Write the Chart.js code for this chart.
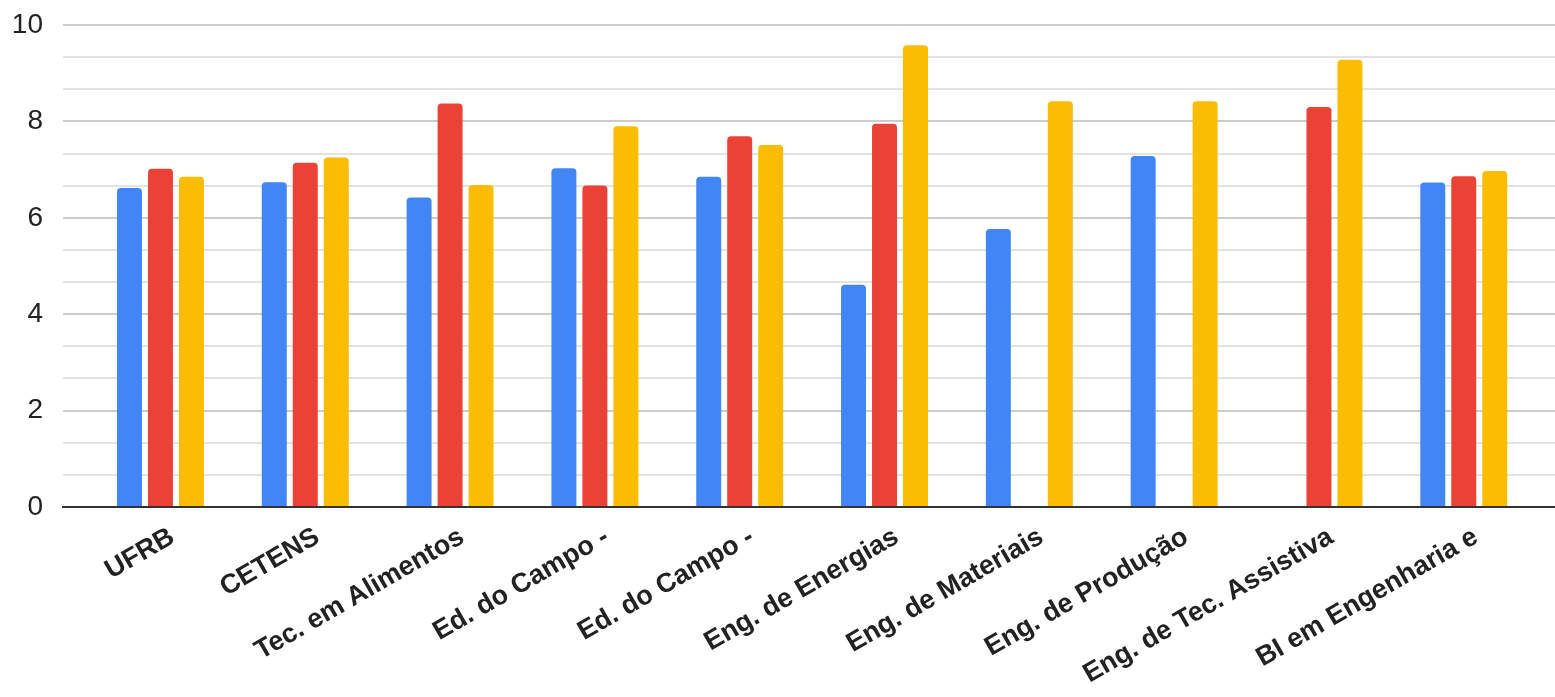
<!DOCTYPE html>
<html><head><meta charset="utf-8">
<script src="https://cdn.jsdelivr.net/npm/chart.js@4.4.1/dist/chart.umd.min.js"></script>
<style>html,body{margin:0;padding:0;background:#fff;} #wrap{width:1555px;height:697px;position:relative;}</style>
</head><body><div id="wrap"><canvas id="c"></canvas></div>
<script>
const categories = ['UFRB', 'CETENS', 'Tec. em Alimentos', 'Ed. do Campo -', 'Ed. do Campo -', 'Eng. de Energias', 'Eng. de Materiais', 'Eng. de Produção', 'Eng. de Tec. Assistiva', 'BI em Engenharia e'];
const seriesBlue = [6.62, 6.74, 6.42, 7.03, 6.85, 4.61, 5.77, 7.28, null, 6.73];
const seriesRed = [7.02, 7.14, 8.37, 6.67, 7.69, 7.95, null, null, 8.30, 6.86];
const seriesYellow = [6.85, 7.25, 6.68, 7.90, 7.51, 9.58, 8.42, 8.42, 9.28, 6.97];
const yTickLabels = ['0', '2', '4', '6', '8', '10'];
const yMinorPerMajor = 3;

const toPoints = arr => arr.map((v, i) => ({x: i, y: v}));
const mk = (label, arr, color) => ({
  label, data: toPoints(arr), backgroundColor: color, borderWidth: 0,
  borderRadius: {topLeft: 4, topRight: 4, bottomLeft: 0, bottomRight: 0},
  categoryPercentage: 0.642, barPercentage: 0.806
});

new Chart(document.getElementById('c'), {
  type: 'bar',
  data: { datasets: [
    mk('Série 1', seriesBlue, '#4285F4'),
    mk('Série 2', seriesRed, '#EA4335'),
    mk('Série 3', seriesYellow, '#FBBC04')
  ]},
  options: {
    responsive: true, maintainAspectRatio: false, animation: false,
    layout: { padding: { top: 25, left: 0, right: 0, bottom: 0 } },
    plugins: { legend: { display: false }, tooltip: { enabled: false } },
    scales: {
      x: {
        type: 'linear', min: -0.673, max: 9.63, offset: false,
        afterBuildTicks: s => { s.ticks = categories.map((_, i) => ({value: i})); },
        afterFit: s => { s.height = 190; },
        grid: { display: false, drawTicks: false },
        border: { display: true, color: '#333333', width: 2 },
        ticks: {
          autoSkip: false, minRotation: 30, maxRotation: 30, padding: 14, labelOffset: 12,
          color: '#222222', font: { family: '"Liberation Sans", Arial, sans-serif', size: 27, weight: 'bold' },
          callback: v => categories[Math.round(v)] ?? ''
        }
      },
      y: {
        min: 0, max: 10,
        afterBuildTicks: s => {
          const n = (yTickLabels.length - 1) * yMinorPerMajor;
          const t = [];
          for (let i = 0; i <= n; i++) t.push({value: i * 10 / n});
          s.ticks = t;
        },
        afterFit: s => { s.width = 63; s.paddingTop = 0; s.paddingBottom = 0; },
        grid: {
          drawTicks: false, lineWidth: 2,
          color: c => {
            const k = Math.round(c.tick.value * (yTickLabels.length - 1) * yMinorPerMajor / 10);
            return k % yMinorPerMajor === 0 ? '#cccccc' : '#e3e3e3';
          }
        },
        border: { display: false },
        ticks: {
          autoSkip: false, padding: 20, color: '#222222',
          font: { family: '"Liberation Sans", Arial, sans-serif', size: 28 },
          callback: (v) => {
            const k = Math.round(v * (yTickLabels.length - 1) * yMinorPerMajor / 10);
            return k % yMinorPerMajor === 0 ? yTickLabels[k / yMinorPerMajor] : '';
          }
        }
      }
    }
  }
});
</script></body></html>
